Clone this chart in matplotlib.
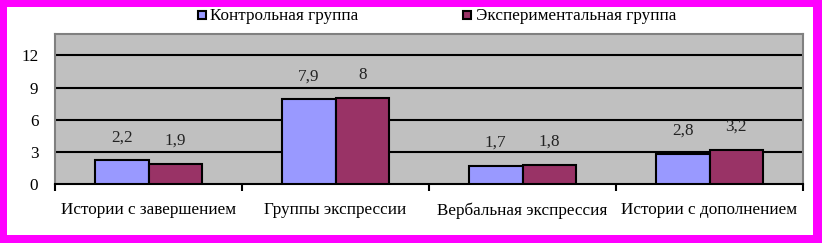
import matplotlib
matplotlib.use("Agg")
import matplotlib.pyplot as plt
from matplotlib.patches import Rectangle
import numpy as np

categories = ["Истории с завершением", "Группы экспрессии", "Вербальная экспрессия", "Истории с дополнением"]
control = [2.2, 7.9, 1.7, 2.8]
experimental = [1.9, 8, 1.8, 3.2]
series_names = ["Контрольная группа", "Экспериментальная группа"]
yticks = [0, 3, 6, 9, 12]

W, H = 822, 243
fig = plt.figure(figsize=(W/100, H/100), dpi=100)
fig.patch.set_facecolor("white")

def px_rect(x0, y0, x1, y1, **kw):
    r = Rectangle((x0/W, 1 - y1/H), (x1-x0)/W, (y1-y0)/H, transform=fig.transFigure, **kw)
    fig.add_artist(r)
    return r

mag = "#FF00FF"
px_rect(0, 0, W, 7, facecolor=mag, edgecolor="none")
px_rect(0, 235, W, H, facecolor=mag, edgecolor="none")
px_rect(0, 0, 7, H, facecolor=mag, edgecolor="none")
px_rect(813, 0, W, H, facecolor=mag, edgecolor="none")

left, right, top, bottom = 55, 803, 34, 184
ax = fig.add_axes([left/W, 1 - bottom/H, (right-left)/W, (bottom-top)/H])
ax.set_facecolor("#C0C0C0")

serif = ["Liberation Serif", "DejaVu Serif"]
fs = 12.3
c1, c2 = "#9999FF", "#993366"
x = np.arange(len(categories))
bw = 0.285
ax.bar(x - bw/2, control, bw, color=c1, edgecolor="black", linewidth=1.5, zorder=3)
ax.bar(x + bw/2, experimental, bw, color=c2, edgecolor="black", linewidth=1.5, zorder=3)

def fmt(v):
    return ("%g" % v).replace(".", ",")

for xi, v in zip(x - bw/2, control):
    ax.annotate(fmt(v), (xi, v), xytext=(0, 16.5), textcoords="offset points",
                ha="center", va="center", fontsize=fs, family=serif, color="#222222")
for xi, v in zip(x + bw/2, experimental):
    ax.annotate(fmt(v), (xi, v), xytext=(0, 16.5), textcoords="offset points",
                ha="center", va="center", fontsize=fs, family=serif, color="#222222")

ax.set_xlim(-0.5, len(categories) - 0.5)
ax.set_ylim(0, 14)
for yv in yticks[1:]:
    ax.axhline(yv, color="black", linewidth=1.5, zorder=1)
ax.set_yticks(yticks)
ax.set_yticklabels([str(t) for t in yticks], family=serif, fontsize=fs)
ax.tick_params(axis="y", length=0, pad=12)

ax.set_xticks(x)
ax.set_xticklabels(categories, family=serif, fontsize=fs)
ax.set_xticks(np.arange(len(categories) + 1) - 0.5, minor=True)
ax.tick_params(axis="x", which="major", length=0, pad=13)
ax.tick_params(axis="x", which="minor", length=5, width=1.5, color="black", direction="out")

for s in ["left", "top", "right"]:
    ax.spines[s].set_color("#808080")
    ax.spines[s].set_linewidth(1.5)
ax.spines["bottom"].set_color("black")
ax.spines["bottom"].set_linewidth(1.5)

px_rect(198, 11, 206, 19, facecolor=c1, edgecolor="black", linewidth=1.5)
px_rect(463, 11, 471, 19, facecolor=c2, edgecolor="black", linewidth=1.5)
fig.text(210/W, 1 - 16/H, series_names[0], ha="left", va="center", family=serif, fontsize=fs)
fig.text(476/W, 1 - 16/H, series_names[1], ha="left", va="center", family=serif, fontsize=fs)

fig.savefig("out.png", dpi=100)
